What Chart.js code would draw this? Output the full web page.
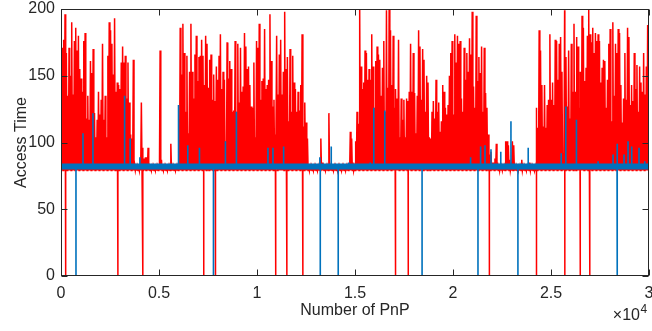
<!DOCTYPE html>
<html lang="en">
<head>
    <meta charset="UTF-8">
    <title>Access Time</title>
    <script src="https://cdn.jsdelivr.net/npm/chart.js"></script>
    <style>
        html, body { margin: 0; padding: 0; background: #ffffff; }
    </style>
</head>
<body>
    <canvas id="graficoAcesso" width="652" height="331"></canvas>

<script>
    // ----- data -----
    var xTicks = [0, 5000, 10000, 15000, 20000, 25000, 30000];
    var yTicks = [0, 50, 100, 150, 200];

    // red: top of the trace, read left to right at even spacing over 0 .. 30000
    var redPeaks = [
        160,171,177,196,167,135,171,150,190,136, 176,186,169,180,155,148,138,176,182,118,
        135,117,161,152,170,122,104,117,138,121, 132,174,117,135,104,165,190,184,174,151,
        193,138,145,143,140,160,172,160,165,133, 160,130,106,103,162,83,82,82,82,84,
        130,96,88,89,89,96,82,82,82,82, 82,82,82,82,169,87,82,82,82,82,
        82,82,99,82,82,82,82,82,95,186, 151,189,167,123,165,107,153,189,153,133,
        166,180,146,164,165,177,165,143,180,174,

        141,162,166,132,151,131,157,147,165,181, 140,153,147,101,175,148,161,155,123,124,
        176,123,174,130,171,138,142,182,172,155, 157,143,127,126,160,104,176,171,189,132,
        146,148,185,140,143,147,196,161,127,132, 106,180,136,166,177,136,153,198,155,164,
        116,170,123,165,145,140,123,138,124,143, 181,112,130,115,103,83,82,82,82,82,
        82,82,82,82,103,85,82,82,82,82, 122,82,82,82,82,82,82,82,82,82,
        82,82,82,82,82,82,108,103,85,82,

        101,123,114,200,157,140,145,169,167,147, 155,147,181,157,126,161,172,166,162,135,
        156,176,123,199,141,200,184,143,180,126, 140,133,177,104,133,117,132,104,133,131,
        138,174,138,167,137,107,135,184,172,132, 170,162,123,150,145,104,103,123,131,118,
        147,123,130,108,116,143,138,126,121,128, 150,167,176,121,181,160,180,174,176,133,
        123,171,147,167,153,178,166,198,142,126, 195,146,164,152,172,123,171,137,126,106,
        91,93,85,85,88,99,85,83,83,82,

        82,82,101,101,98,87,82,101,98,82, 82,82,82,82,87,82,82,82,82,82,
        85,82,82,82,82,126,111,184,169,143, 112,143,111,128,132,181,132,145,128,177,
        176,147,174,179,153,92,199,164,127,169, 118,174,138,189,138,179,172,126,153,195,
        186,146,156,180,200,181,175,186,167,182, 176,181,176,145,156,162,161,126,147,174,
        185,116,190,135,174,167,185,182,143,115, 133,167,132,186,179,128,143,131,167,140,
        158,123,157,145,138,167,136,157,188,152
    ];
    var redFloor = 79;
    var redDrops = [239, 2903, 4177, 7284, 7879, 10951, 11527, 12342, 17063, 17710, 21851, 24260, 25706, 26486, 26980];

    // blue: steady band with a few spikes and drops
    var blueLevel = 82;
    var blueSpikeX = [1121, 1630, 3244, 3530, 4024, 5995, 6469, 7064, 8389, 8949, 10559, 10814, 11358, 13207, 13788, 14684,
        15775, 15958, 16518, 20898, 21408, 21632, 21938, 22437, 22956, 23837, 25518, 25757, 26297, 27402, 28166, 28385,
        28726, 28930, 29118, 29490, 29781];
    var blueSpikeY = [107, 122, 135, 103, 89, 128, 98, 96, 101, 123, 96, 96, 97, 89, 97, 85,
        85, 126, 124, 89, 97, 98, 95, 93, 116, 96, 92, 127, 117, 86, 91, 99,
        91, 101, 97, 96, 86];
    var blueDrops = [764, 7778, 13228, 14144, 18422, 21274, 23312, 28370];

    // ----- build the point lists -----
    function porX(a, b) { return a.x - b.x; }

    var passo = 30000 / (redPeaks.length - 1);
    var pontosVermelhos = [];
    for (var i = 0; i < redPeaks.length; i++) {
        pontosVermelhos.push({ x: i * passo, y: redPeaks[i] });
        pontosVermelhos.push({ x: i * passo + passo / 2, y: redFloor });
    }
    for (var i = 0; i < redDrops.length; i++) {
        pontosVermelhos.push({ x: redDrops[i] - 1, y: redFloor });
        pontosVermelhos.push({ x: redDrops[i], y: 0 });
        pontosVermelhos.push({ x: redDrops[i] + 1, y: redFloor });
    }
    pontosVermelhos.sort(porX);

    var pontosAzuis = [{ x: 0, y: blueLevel }, { x: 30000, y: blueLevel }];
    for (var i = 0; i < blueSpikeX.length; i++) {
        pontosAzuis.push({ x: blueSpikeX[i] - 1, y: blueLevel });
        pontosAzuis.push({ x: blueSpikeX[i], y: blueSpikeY[i] });
        pontosAzuis.push({ x: blueSpikeX[i] + 1, y: blueLevel });
    }
    for (var i = 0; i < blueDrops.length; i++) {
        pontosAzuis.push({ x: blueDrops[i] - 1, y: blueLevel });
        pontosAzuis.push({ x: blueDrops[i], y: 0 });
        pontosAzuis.push({ x: blueDrops[i] + 1, y: blueLevel });
    }
    pontosAzuis.sort(porX);

    var fonte = 'Liberation Sans';
    var corEixo = '#262626';

    // box with inward ticks on all sides, plus the x10^4 multiplier
    var eixosCaixa = {
        id: 'eixosCaixa',
        afterDatasetsDraw: function (chart) {
            var ctx = chart.ctx;
            var a = chart.chartArea;
            var sx = chart.scales.x;
            var sy = chart.scales.y;
            var l = Math.round(a.left) + 0.5, r = Math.round(a.right) - 0.5;
            var t = Math.round(a.top) + 0.5, b = Math.round(a.bottom) - 0.5;
            ctx.save();
            ctx.strokeStyle = corEixo;
            ctx.lineWidth = 1;
            ctx.strokeRect(l, t, r - l, b - t);
            ctx.beginPath();
            xTicks.forEach(function (v) {
                var px = Math.round(sx.getPixelForValue(v)) + 0.5;
                ctx.moveTo(px, b); ctx.lineTo(px, b - 6);
                ctx.moveTo(px, t); ctx.lineTo(px, t + 6);
            });
            yTicks.forEach(function (v) {
                var py = Math.round(sy.getPixelForValue(v)) + 0.5;
                ctx.moveTo(l, py); ctx.lineTo(l + 6, py);
                ctx.moveTo(r, py); ctx.lineTo(r - 6, py);
            });
            ctx.stroke();

            ctx.fillStyle = corEixo;
            ctx.textBaseline = 'alphabetic';
            ctx.textAlign = 'right';
            ctx.font = '16px "' + fonte + '"';
            ctx.fillText('\u00d710', 640, 320);
            ctx.textAlign = 'left';
            ctx.font = '12px "' + fonte + '"';
            ctx.fillText('4', 640.5, 313);
            ctx.restore();
        }
    };

    var config = {
        type: 'line',
        data: {
            datasets: [
                {
                    label: 'blue band',
                    data: [{ x: 0, y: blueLevel }, { x: 30000, y: blueLevel }],
                    borderColor: '#0072BD',
                    borderWidth: 6,
                    pointRadius: 0,
                    order: 0
                },
                {
                    label: 'blue',
                    data: pontosAzuis,
                    borderColor: '#0072BD',
                    borderWidth: 1.6,
                    pointRadius: 0,
                    order: 1
                },
                {
                    label: 'red',
                    data: pontosVermelhos,
                    borderColor: '#FF0000',
                    borderWidth: 1.5,
                    pointRadius: 0,
                    order: 2
                }
            ]
        },
        options: {
            responsive: false,
            animation: false,
            parsing: false,
            normalized: true,
            layout: { padding: { top: 9, right: 3, bottom: 0, left: 0 } },
            elements: { line: { tension: 0 } },
            plugins: {
                legend: { display: false },
                tooltip: { enabled: false }
            },
            scales: {
                x: {
                    type: 'linear',
                    min: 0,
                    max: 30000,
                    afterBuildTicks: function (s) {
                        s.ticks = xTicks.map(function (v) { return { value: v }; });
                    },
                    afterFit: function (s) {
                        s.height = 55;
                        s.paddingLeft = 0;
                        s.paddingRight = 0;
                    },
                    ticks: {
                        callback: function (v) { return String(v / 10000); },
                        font: { family: fonte, size: 16 },
                        color: corEixo,
                        padding: 8,
                        maxRotation: 0,
                        autoSkip: false
                    },
                    grid: { display: false, drawTicks: false },
                    border: { display: false },
                    title: {
                        display: true,
                        text: 'Number of PnP',
                        font: { family: fonte, size: 16 },
                        color: corEixo,
                        padding: { top: 0, bottom: 11 }
                    }
                },
                y: {
                    min: 0,
                    max: 200,
                    afterBuildTicks: function (s) {
                        s.ticks = yTicks.map(function (v) { return { value: v }; });
                    },
                    afterFit: function (s) {
                        s.width = 61;
                        s.paddingTop = 0;
                        s.paddingBottom = 0;
                    },
                    ticks: {
                        font: { family: fonte, size: 16 },
                        color: corEixo,
                        padding: 6
                    },
                    grid: { display: false, drawTicks: false },
                    border: { display: false },
                    title: {
                        display: true,
                        text: 'Access Time',
                        font: { family: fonte, size: 16 },
                        color: corEixo,
                        padding: { top: 12, bottom: 0 }
                    }
                }
            }
        },
        plugins: [eixosCaixa]
    };

    var grafico = new Chart(document.getElementById('graficoAcesso'), config);
</script>
</body>
</html>
